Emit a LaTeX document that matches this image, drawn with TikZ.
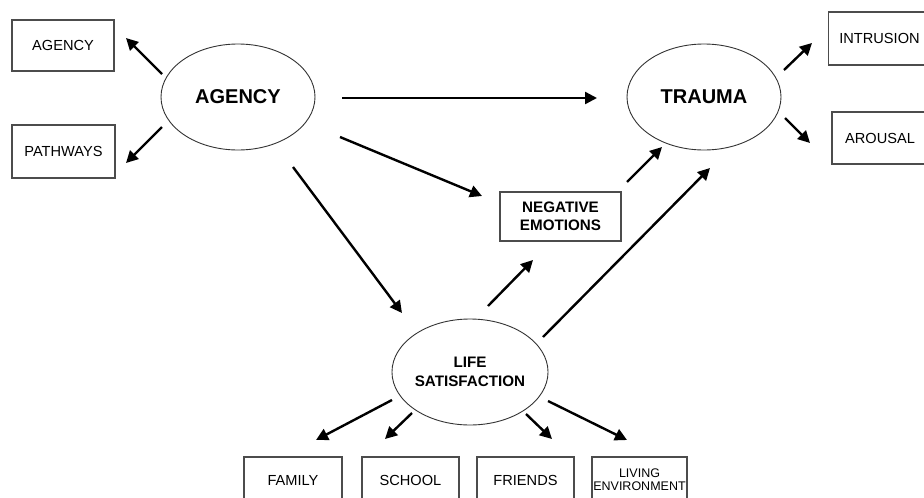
\documentclass[tikz,border=0pt]{standalone}
\usepackage{fontspec}
\setmainfont{Liberation Sans}
\usetikzlibrary{arrows.meta,calc,shapes.geometric}
\begin{document}
\begin{tikzpicture}[x=1pt,y=1pt,
  latent/.style={ellipse,draw=black!80,line width=0.9pt,minimum width=154pt,
    minimum height=106pt,inner sep=0pt,align=center},
  bigtext/.style={font=\fontsize{20}{22}\selectfont\bfseries},
  midtext/.style={font=\fontsize{15.2}{18.5}\selectfont\bfseries},
  indicator/.style={rectangle,draw=black!70,line width=1.1pt,inner sep=0pt,
    align=center,font=\fontsize{14.6}{16}\selectfont},
  path arrow/.style={line width=2.4pt,-{Triangle[length=12pt,width=12pt]}}
]
\useasboundingbox (0,0) rectangle (924,-498);
\clip (0,0) rectangle (924,-498);

% latent constructs
\node[latent,bigtext] (agency) at (238,-97) {AGENCY};
\node[latent,bigtext] (trauma) at (704,-97) {TRAUMA};
\node[latent,midtext] (life) at (470,-372) {LIFE\\SATISFACTION};

% mediator
\node[indicator,midtext,minimum width=121pt,minimum height=49pt] (neg)
  at (560.5,-216.5) {NEGATIVE\\EMOTIONS};

% indicators of agency
\node[indicator,minimum width=102pt,minimum height=51pt] (agencybox)
  at (63,-45.5) {AGENCY};
\node[indicator,minimum width=103pt,minimum height=53pt] (pathways)
  at (63.5,-151.5) {PATHWAYS};

% indicators of trauma
\node[indicator,minimum width=102pt,minimum height=53pt] (intrusion)
  at (879.5,-38.5) {INTRUSION};
\node[indicator,minimum width=96pt,minimum height=52pt] (arousal)
  at (880,-138) {AROUSAL};

% indicators of life satisfaction
\node[indicator,minimum width=98pt,minimum height=46pt] (family)
  at (293,-480) {FAMILY};
\node[indicator,minimum width=97pt,minimum height=46pt] (school)
  at (410.5,-480) {SCHOOL};
\node[indicator,minimum width=97pt,minimum height=46pt] (friends)
  at (525.5,-480) {FRIENDS};
\node[indicator,minimum width=95pt,minimum height=46pt,
  font=\fontsize{12.5}{13}\selectfont] (living)
  at (639.5,-480) {LIVING\\ENVIRONMENT};

% paths
\draw[path arrow] ($(agency)+(-76,23)$) -- ($(agencybox)+(63,7.5)$);
\draw[path arrow] ($(agency)+(-76,-30)$) -- ($(pathways)+(62.5,-11.5)$);
\draw[path arrow] ($(agency)+(104,-1)$) -- ($(trauma)+(-107,-1)$);
\draw[path arrow] ($(agency)+(102,-40)$) -- ($(neg)+(-78.5,20.5)$);
\draw[path arrow] ($(agency)+(55,-70)$) -- ($(life)+(-68,59)$);
\draw[path arrow] ($(neg)+(66.5,34.5)$) -- ($(trauma)+(-42,-50)$);
\draw[path arrow] ($(life)+(73,35)$) -- ($(trauma)+(6,-71)$);
\draw[path arrow] ($(life)+(18,66)$) -- ($(neg)+(-27.5,-43.5)$);
\draw[path arrow] ($(trauma)+(80,27)$) -- ($(intrusion)+(-67.5,-4.5)$);
\draw[path arrow] ($(trauma)+(81,-21)$) -- ($(arousal)+(-70,-5)$);
\draw[path arrow] ($(life)+(-78,-28)$) -- ($(family)+(23,40)$);
\draw[path arrow] ($(life)+(-58,-41)$) -- ($(school)+(-25.5,41)$);
\draw[path arrow] ($(life)+(56,-42)$) -- ($(friends)+(26.5,41)$);
\draw[path arrow] ($(life)+(78,-29)$) -- ($(living)+(-12.5,40)$);
\end{tikzpicture}
\end{document}
